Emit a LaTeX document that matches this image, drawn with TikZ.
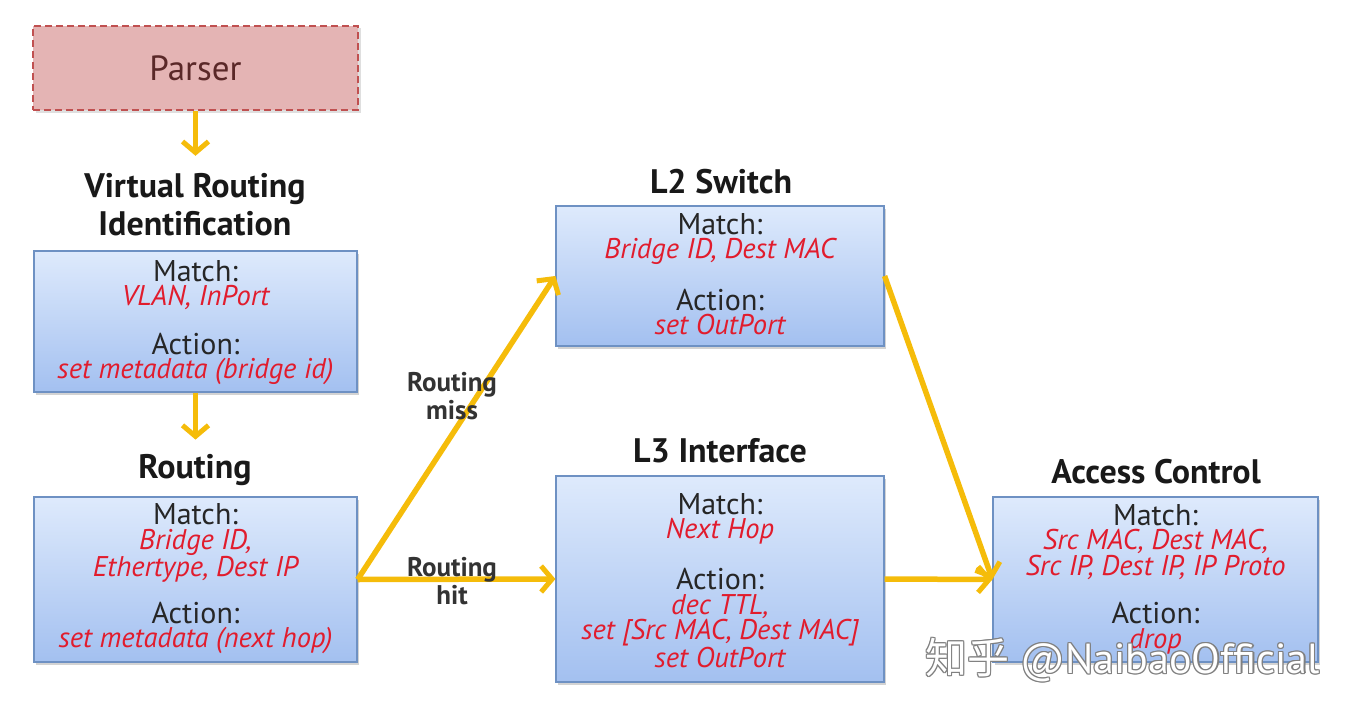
\documentclass[tikz,border=0pt]{standalone}
\usepackage{fontspec}
\setmainfont{PT Sans}
\newfontfamily\cjk{Noto Sans CJK SC}
\usetikzlibrary{arrows.meta,shadows}
\definecolor{boxtop}{RGB}{222,234,252}
\definecolor{boxbot}{RGB}{163,192,240}
\definecolor{boxline}{RGB}{110,145,195}
\definecolor{redtxt}{RGB}{225,28,45}
\definecolor{flow}{RGB}{245,188,10}
\definecolor{parserfill}{RGB}{228,180,180}
\definecolor{parserline}{RGB}{192,80,80}
\definecolor{parsertxt}{RGB}{90,40,40}
\tikzset{
  tbox/.style={draw=boxline, line width=1.2pt, top color=boxtop, bottom color=boxbot,
    drop shadow={shadow xshift=2pt, shadow yshift=-3pt, opacity=0.35}, inner sep=0pt},
  ttl/.style={font=\fontsize{34}{38}\selectfont\bfseries, text=black!90, align=center},
  blk/.style={font=\fontsize{30}{24.5}\selectfont, text=black!85, align=center, inner sep=0pt},
  flowarrow/.style={draw=flow, line width=5.5pt, -{Straight Barb[length=11pt,width=26pt,line width=5pt]}},
  lbl/.style={font=\fontsize{27}{28}\selectfont\bfseries, text=black!80, align=center, inner sep=0pt},
}
\newcommand{\rt}[1]{{\color{redtxt}\fontsize{28.5}{24.5}\selectfont\itshape #1}}
\begin{document}
\begin{tikzpicture}[x=1pt,y=-1pt]
\useasboundingbox (0,0) rectangle (1355,717);
% parser
\node[draw=parserline, dashed, dash pattern=on 7pt off 4pt, line width=1.6pt, fill=parserfill,
  minimum width=325pt, minimum height=84pt, drop shadow={opacity=0.25}] (parser) at (195.5,68)
  {\fontsize{35}{38}\selectfont\color{parsertxt}Parser};
% VRI
\node[ttl] (vrit) at (195,205) {Virtual Routing\\Identification};
\node[tbox, minimum width=323pt, minimum height=141pt] (vri) at (195.5,321.5) {};
\node[blk] (vrim) at (195.5,285) {Match:\\\rt{VLAN, InPort}};
\node[blk] (vria) at (195.5,359) {Action:\\\rt{set metadata (bridge id)}};
% Routing
\node[ttl] (rtt) at (195,470) {Routing};
\node[tbox, minimum width=323pt, minimum height=165pt] (rt) at (195.5,579.5) {};
\node[blk] (rtm) at (195.5,543) {Match:\\\rt{Bridge ID,}\\\rt{Ethertype, Dest IP}};
\node[blk] (rta) at (195.5,628) {Action:\\\rt{set metadata (next hop)}};
% L2
\node[ttl] (l2t) at (721,182) {L2 Switch};
\node[tbox, minimum width=328pt, minimum height=140pt] (l2) at (720,276) {};
\node[blk] (l2m) at (720,239) {Match:\\\rt{Bridge ID, Dest MAC}};
\node[blk] (l2a) at (720,312) {Action:\\\rt{set OutPort}};
% L3
\node[ttl] (l3t) at (720,451) {L3 Interface};
\node[tbox, minimum width=328pt, minimum height=206pt] (l3) at (720,579) {};
\node[blk] (l3m) at (720,519) {Match:\\\rt{Next Hop}};
\node[blk] (l3a) at (720,618) {Action:\\\rt{dec TTL,}\\\rt{set [Src MAC, Dest MAC]}\\\rt{set OutPort}};
% ACL
\node[ttl] (act) at (1156,472) {Access Control};
\node[tbox, minimum width=325pt, minimum height=165pt] (ac) at (1155.5,579.5) {};
\node[blk] (acm) at (1155.5,542) {Match:\\\rt{Src MAC, Dest MAC,}\\\rt{Src IP, Dest IP, IP Proto}};
\node[blk] (aca) at (1155.5,628) {Action:\\\rt{drop}};
% arrows
\draw[flowarrow] (parser.south) -- ++(0,45);
\draw[flowarrow] (vri.south) -- ++(0,47);
\draw[flowarrow] (rt.east) -- (l2.west);
\draw[flowarrow] (rt.east) -- (l3.west);
\draw[flowarrow] (l2.east) -- (ac.west);
\draw[flowarrow] (l3.east) -- (ac.west);
\node[lbl] (miss) at (452,396) {Routing\\miss};
\node[lbl] (hit) at (452,581) {Routing\\hit};
% watermark
\foreach \dx/\dy [count=\i] in {-1.2/0,1.2/0,0/-1.2,0/1.2,1/1,-1/-1,1/-1,-1/1}
  \node[anchor=west, text=black!50, font=\fontsize{42}{44}\selectfont] (wms\i) at (922+\dx,660+\dy) {{\cjk 知乎} @NaibaoOfficial};
\node[anchor=west, text=white, font=\fontsize{42}{44}\selectfont] (wm) at (922,660) {{\cjk 知乎} @NaibaoOfficial};
\end{tikzpicture}
\end{document}
